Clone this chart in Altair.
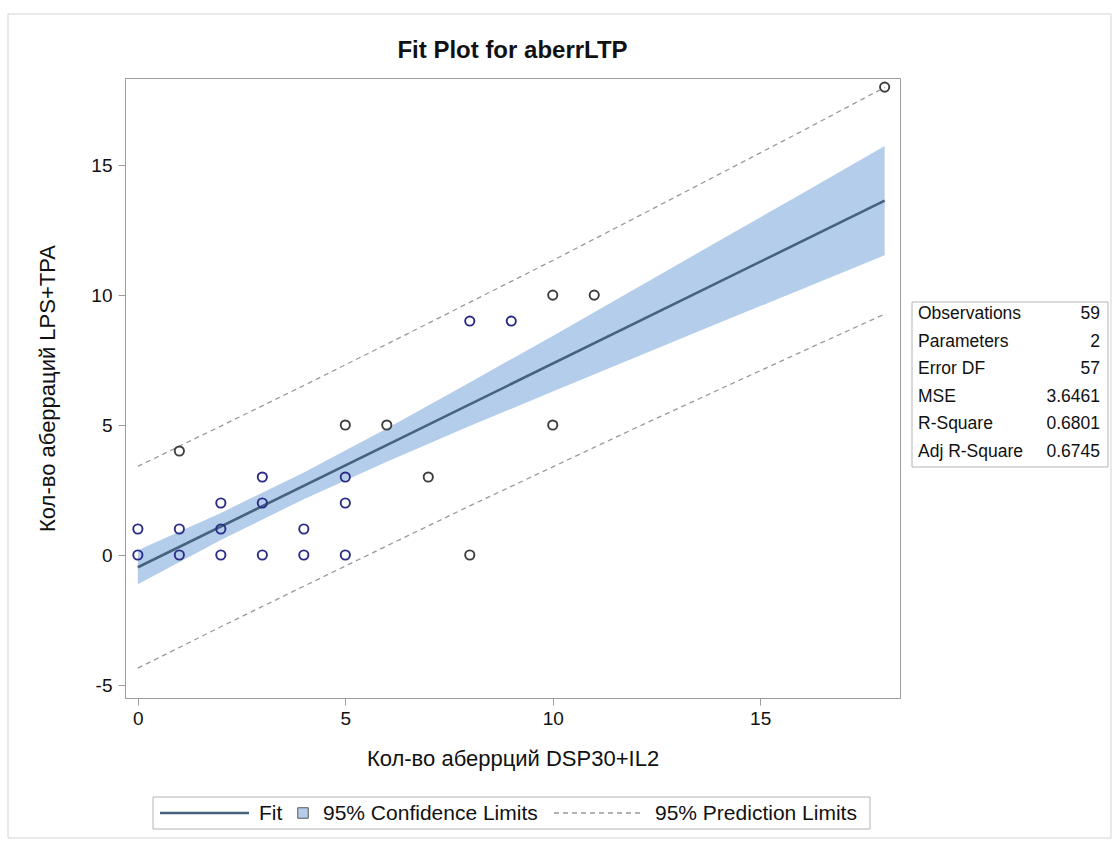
import altair as alt
import pandas as pd

# Observed values (open circles); repeated = several observations share the point
obs_x = [0, 0, 1, 1, 1, 2, 2, 2, 3, 3, 3, 4, 4, 5, 5, 5, 5, 6, 7, 8, 8, 9, 10, 10, 11, 18]
obs_y = [0, 1, 0, 1, 4, 0, 1, 2, 0, 2, 3, 0, 1, 0, 2, 3, 5, 5, 3, 0, 9, 9, 5, 10, 10, 18]
obs_repeated = [True, True, True, True, False, True, True, True, True, True, True, True, True,
                True, True, True, False, False, False, False, True, True, False, False, False, False]

# Fitted regression line
fit_x = [0, 18]
fit_y = [-0.47, 13.63]

# 95% confidence and prediction limits along x
lim_x = [0, 2, 4, 6, 8, 10, 12, 14, 16, 18]
clm_lo = [-1.12, 0.58, 2.15, 3.59, 4.96, 6.29, 7.61, 8.93, 10.22, 11.53]
clm_hi = [0.18, 1.62, 3.17, 4.87, 6.64, 8.43, 10.25, 12.08, 13.90, 15.73]
pred_lo = [-4.35, -2.76, -1.20, 0.35, 1.89, 3.39, 4.89, 6.36, 7.82, 9.27]
pred_hi = [3.41, 4.96, 6.52, 8.11, 9.72, 11.33, 12.98, 14.64, 16.30, 17.99]

# Fit statistics
stat_names = ["Observations", "Parameters", "Error DF", "MSE", "R-Square", "Adj R-Square"]
stat_values = ["59", "2", "57", "3.6461", "0.6801", "0.6745"]

x_ticks = [0, 5, 10, 15]
y_ticks = [-5, 0, 5, 10, 15]

FONT = "Liberation Sans"
BAND = "#b4cdea"
FIT = "#45627f"
PRED = "#9a9a9a"
FRAME = "#9c9c9c"
NAVY = "#2a2b86"
DARK = "#3e3e3e"

W, H = 775, 620

obs = pd.DataFrame({"x": obs_x, "y": obs_y, "rep": obs_repeated})
fit = pd.DataFrame({"x": fit_x, "y": fit_y})
lims = pd.DataFrame({"x": lim_x, "clo": clm_lo, "chi": clm_hi, "plo": pred_lo, "phi": pred_hi})
one = pd.DataFrame({"k": [0]})

xs = alt.Scale(domain=[-0.31, 18.37], nice=False, zero=False)
ys = alt.Scale(domain=[-5.5, 18.35], nice=False, zero=False)

# plain hyphen-minus for negative tick labels
plain_label = "'' + datum.value"

x_axis = alt.Axis(values=x_ticks, tickSize=7, labelFontSize=19, labelPadding=4, grid=False,
                  labelExpr=plain_label,
                  title="Кол-во аберрций DSP30+IL2", titleFontSize=22, titleFontWeight="normal",
                  titleX=W / 2, titleY=60, titleAlign="center", titleBaseline="middle")
y_axis = alt.Axis(values=y_ticks, tickSize=7, labelFontSize=19, labelPadding=6, grid=False,
                  labelExpr=plain_label,
                  title="Кол-во аберраций LPS+TPA", titleFontSize=22, titleFontWeight="normal",
                  titleX=-78, titleY=H / 2, titleAngle=270, titleAlign="center",
                  titleBaseline="middle")

X = alt.X("x:Q", scale=xs, axis=x_axis)

band = alt.Chart(lims).mark_area(color=BAND, opacity=1).encode(
    x=X, y=alt.Y("clo:Q", scale=ys, axis=y_axis), y2="chi:Q")

fit_line = alt.Chart(fit).mark_line(color=FIT, strokeWidth=2.6).encode(
    x=X, y=alt.Y("y:Q", scale=ys, axis=y_axis))

pred_upper = alt.Chart(lims).mark_line(color=PRED, strokeWidth=1.3, strokeDash=[5, 4]).encode(
    x=X, y=alt.Y("phi:Q", scale=ys, axis=y_axis))
pred_lower = alt.Chart(lims).mark_line(color=PRED, strokeWidth=1.3, strokeDash=[5, 4]).encode(
    x=X, y=alt.Y("plo:Q", scale=ys, axis=y_axis))

points = alt.Chart(obs).mark_point(shape="circle", filled=False, size=85, strokeWidth=1.9,
                                   opacity=1).encode(
    x=X, y=alt.Y("y:Q", scale=ys, axis=y_axis),
    color=alt.Color("rep:N", scale=alt.Scale(domain=[True, False], range=[NAVY, DARK]),
                    legend=None))

# Chart title, drawn above the plot frame
title = alt.Chart(one).mark_text(font=FONT, fontSize=24, fontWeight="bold", align="center",
                                 baseline="middle", color="#111").encode(
    x=alt.value(W / 2), y=alt.value(-27), text=alt.value("Fit Plot for aberrLTP"))

# Outer border of the figure
border = alt.Chart(one).mark_rect(fill=None, stroke="#d4d4d4", strokeWidth=1).encode(
    x=alt.value(-117), x2=alt.value(986), y=alt.value(-64), y2=alt.value(760))

# Legend below the plot
LX, LY = 28, 735
legend_box = alt.Chart(one).mark_rect(fill="white", stroke="#b4b4b4", strokeWidth=1).encode(
    x=alt.value(LX), x2=alt.value(745), y=alt.value(LY - 16), y2=alt.value(LY + 16))
leg_fit = alt.Chart(one).mark_rule(color=FIT, strokeWidth=2.6).encode(
    x=alt.value(LX + 7), x2=alt.value(LX + 96), y=alt.value(LY))
leg_fit_t = alt.Chart(one).mark_text(font=FONT, fontSize=21, align="left", baseline="middle",
                                     color="#111").encode(
    x=alt.value(LX + 106), y=alt.value(LY + 1), text=alt.value("Fit"))
leg_sq = alt.Chart(one).mark_square(size=110, fill=BAND, stroke="#555", strokeWidth=1,
                                    opacity=1).encode(
    x=alt.value(LX + 150), y=alt.value(LY))
leg_sq_t = alt.Chart(one).mark_text(font=FONT, fontSize=21, align="left", baseline="middle",
                                    color="#111").encode(
    x=alt.value(LX + 170), y=alt.value(LY + 1), text=alt.value("95% Confidence Limits"))
leg_pr = alt.Chart(one).mark_rule(color=PRED, strokeWidth=1.3, strokeDash=[5, 4]).encode(
    x=alt.value(LX + 401), x2=alt.value(LX + 491), y=alt.value(LY))
leg_pr_t = alt.Chart(one).mark_text(font=FONT, fontSize=21, align="left", baseline="middle",
                                    color="#111").encode(
    x=alt.value(LX + 502), y=alt.value(LY + 1), text=alt.value("95% Prediction Limits"))

# Fit statistics inset to the right of the plot
TX0, TX1, TY0, TY1 = 787, 983, 224, 389
ROW0, ROWSTEP = 236, 27.6
stats = pd.DataFrame({"name": stat_names, "val": stat_values,
                      "py": [ROW0 + i * ROWSTEP for i in range(len(stat_names))]})
table_box = alt.Chart(one).mark_rect(fill="white", stroke="#b4b4b4", strokeWidth=1).encode(
    x=alt.value(TX0), x2=alt.value(TX1), y=alt.value(TY0), y2=alt.value(TY1))
table_names = alt.Chart(stats).mark_text(font=FONT, fontSize=17.5, align="left",
                                         baseline="middle", color="#111").encode(
    x=alt.value(TX0 + 6), y=alt.Y("py:Q", scale=None), text="name:N")
table_vals = alt.Chart(stats).mark_text(font=FONT, fontSize=17.5, align="right",
                                        baseline="middle", color="#111").encode(
    x=alt.value(TX1 - 8), y=alt.Y("py:Q", scale=None), text="val:N")

chart = alt.layer(
    border, band, pred_upper, pred_lower, fit_line, points, title,
    legend_box, leg_fit, leg_fit_t, leg_sq, leg_sq_t, leg_pr, leg_pr_t,
    table_box, table_names, table_vals,
).properties(
    width=W, height=H,
    autosize=alt.AutoSizeParams(type="none"),
    padding={"left": 125, "top": 78, "right": 215, "bottom": 147},
    background="white",
).configure_view(
    stroke=FRAME, strokeWidth=1
).configure_axis(
    labelFont=FONT, titleFont=FONT, labelColor="#111", titleColor="#111",
    domainColor=FRAME, tickColor=FRAME, domainWidth=1, tickWidth=1,
)

chart.save("out.html", embed_options={"renderer": "svg", "actions": False})
